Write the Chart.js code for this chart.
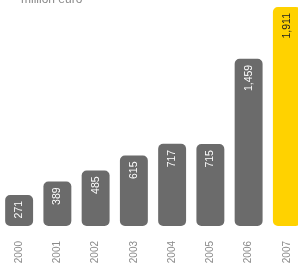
<!DOCTYPE html>
<html>
<head>
    <title>Million euro by year</title>
    <script src="https://cdn.jsdelivr.net/npm/chart.js@4.4.0/dist/chart.umd.min.js"></script>
    <style>
        body {
            margin: 0;
            width: 298px;
            height: 270px;
            overflow: hidden;
            background: #fff;
            position: relative;
            font-family: "Liberation Sans", Arial, sans-serif;
        }
        .unit {
            position: absolute;
            left: 21px;
            top: -8px;
            font-size: 12px;
            line-height: 14px;
            color: #8a8a8a;
        }
        .wrap {
            position: absolute;
            left: 0;
            top: 0;
            width: 306px;
            height: 270px;
        }
    </style>
</head>
<body>
    <div class="wrap"><canvas id="chart"></canvas></div>
    <div class="unit">million euro</div>

    <script>
        const years = ['2000', '2001', '2002', '2003', '2004', '2005', '2006', '2007'];
        const values = [271, 389, 485, 615, 717, 715, 1459, 1911];
        const valueLabels = ['271', '389', '485', '615', '717', '715', '1,459', '1,911'];
        const barColors = ['#6b6b6b', '#6b6b6b', '#6b6b6b', '#6b6b6b', '#6b6b6b', '#6b6b6b', '#6b6b6b', '#ffd200'];
        const labelColors = ['#fff', '#fff', '#fff', '#fff', '#fff', '#fff', '#fff', '#222'];

        // values written upright inside the top of each bar
        const barText = {
            id: 'barText',
            afterDatasetsDraw(chart) {
                const ctx = chart.ctx;
                const meta = chart.getDatasetMeta(0);
                meta.data.forEach((bar, i) => {
                    ctx.save();
                    ctx.translate(bar.x, bar.y + 6);
                    ctx.rotate(-Math.PI / 2);
                    ctx.font = '10.5px "Liberation Sans", sans-serif';
                    ctx.fillStyle = labelColors[i];
                    ctx.textAlign = 'right';
                    ctx.textBaseline = 'middle';
                    ctx.fillText(valueLabels[i], 0, 0);
                    ctx.restore();
                });
            }
        };

        new Chart(document.getElementById('chart'), {
            type: 'bar',
            data: {
                labels: years,
                datasets: [{
                    data: values,
                    backgroundColor: barColors,
                    borderRadius: 5,
                    borderSkipped: false,
                    barPercentage: 0.73,
                    categoryPercentage: 1
                }]
            },
            options: {
                responsive: true,
                maintainAspectRatio: false,
                animation: false,
                layout: { padding: 0 },
                plugins: {
                    legend: { display: false },
                    tooltip: { enabled: false }
                },
                scales: {
                    x: {
                        grid: { display: false },
                        border: { display: false },
                        afterFit(scale) { scale.height = 44; },
                        ticks: {
                            minRotation: 90,
                            maxRotation: 90,
                            padding: 7,
                            color: '#8a8a8a',
                            font: { family: '"Liberation Sans", sans-serif', size: 10 }
                        }
                    },
                    y: {
                        display: false,
                        min: 0,
                        max: 1972
                    }
                }
            },
            plugins: [barText]
        });
    </script>
</body>
</html>
